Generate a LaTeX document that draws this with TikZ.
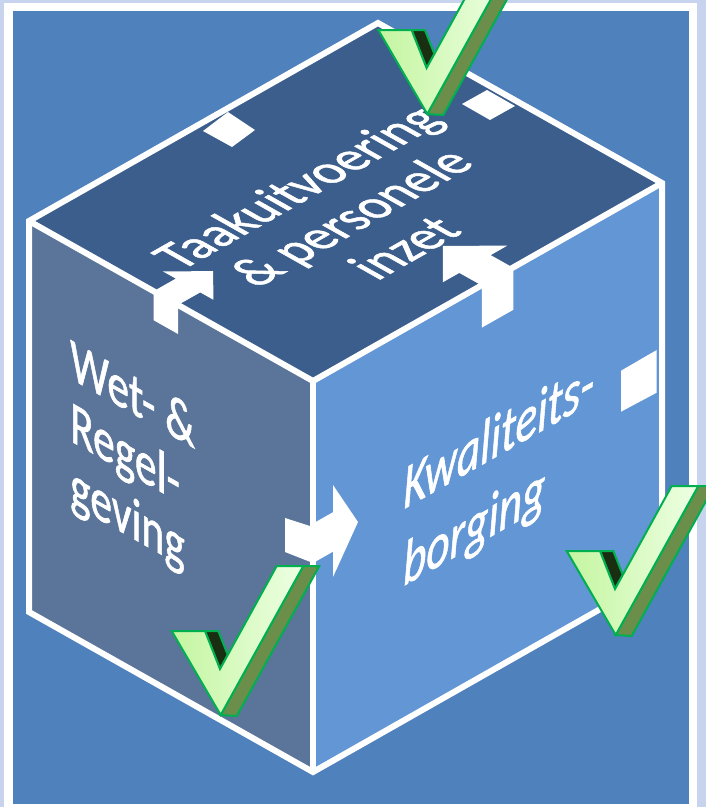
\documentclass[tikz,border=0pt]{standalone}
\usepackage{fontspec}
\setmainfont{Carlito}
\newfontfamily\vlakfont[FakeBold=1.2]{Carlito}
\usepackage{tikz}
\usetikzlibrary{positioning}

\definecolor{achtergrond}{HTML}{4F81BD}
\definecolor{lavendel}{HTML}{C8D4EE}
\definecolor{bovenvlak}{HTML}{3B5E8C}
\definecolor{linkervlak}{HTML}{5A7599}
\definecolor{rechtervlak}{HTML}{6296D4}
\definecolor{vinkrand}{HTML}{00B050}
\definecolor{vinklicht}{HTML}{C4F5A0}
\definecolor{vinkwit}{HTML}{EEFFE4}
\definecolor{vinkzij}{HTML}{6B8F4A}
\definecolor{vinkdonker}{HTML}{1A2E12}

\tikzset{
	vink/.pic={
		\path[fill=vinkzij, draw=vinkrand, line width=2pt] (131.6,-65) -- (147.6,-65) -- (65,85) -- (49,84) -- cycle;
		\path[fill=vinkdonker, draw=vinkrand, line width=2pt] (33.3,0) -- (46.6,0) -- (56.1,23.9) -- (48.3,38) -- cycle;
		\path[left color=vinklicht, right color=vinkwit, draw=vinkrand, line width=2pt] (0,0) -- (33.3,0) -- (48.3,38) -- (105,-65) -- (131.6,-65) -- (49,84) -- cycle;
	}
}

\begin{document}
\begin{tikzpicture}[x=1pt, y=-1pt,
		rand/.style    = {draw=white, line width=6pt, line join=miter},
		lip/.style     = {fill=white},
		pijl/.style    = {fill=white},
		opschrift/.style = {text=white, inner sep=0pt, transform shape, font=\vlakfont\fontsize{50}{64}\selectfont},
		boven/.style   = {opschrift, align=center, font=\vlakfont\fontsize{51}{56}\selectfont, cm={0.870,0.4935,-0.958,0.540,(0,0)}},
		links/.style   = {opschrift, align=left, anchor=north west, font=\vlakfont\fontsize{50}{52}\selectfont, cm={0.871,-0.491,0,1.2,(0,0)}},
		rechts/.style  = {opschrift, align=left, anchor=north west, font=\vlakfont\itshape\fontsize{52}{64}\selectfont, cm={0.870,0.4935,0,1.2,(0,0)}}]
	
	% achtergrond met kader
	\useasboundingbox (0,0) rectangle (706,807);
	\clip (0,0) rectangle (706,807);
	\fill[lavendel] (0,0) rectangle (706,807);
	\fill[white] (4,3) rectangle (697,812);
	\fill[achtergrond] (12.5,11) rectangle (689,804);
	
	% hoekpunten van de kubus
	\coordinate (LT) at (29,221);
	\coordinate (BT) at (378,23);
	\coordinate (RT) at (662,183);
	\coordinate (FT) at (313,381);
	\coordinate (LB) at (29,612);
	\coordinate (FB) at (313,772);
	\coordinate (RB) at (662,574);
	
	% de drie vlakken
	\fill[bovenvlak] (LT) -- (BT) -- (RT) -- (FT) -- cycle;
	\fill[linkervlak] (LT) -- (FT) -- (FB) -- (LB) -- cycle;
	\fill[rechtervlak] (FT) -- (RT) -- (RB) -- (FB) -- cycle;
	
	% ribben
	\draw[rand] (LT) -- (BT) -- (RT) -- (RB) -- (FB) -- (LB) -- cycle;
	\foreach \hoek in {LT,RT,FB}
	\draw[rand] (FT) -- (\hoek);
	
	% lipjes op de ribben
	\fill[lip] (203,131) -- (228,112) -- (255,130) -- (232,147) -- cycle;
	\fill[lip] (462,104) -- (487,90) -- (515,106) -- (490,120) -- cycle;
	\fill[lip] (621,370.7) -- (656.7,350) -- (656.7,392.7) -- (621,411.7) -- cycle;
	
	% pijlen over de ribben
	\fill[pijl] (213.2,271.2) -- (213.3,299.7) -- (200.2,292.4) -- (178,305) -- (178,334)
		-- (153.6,320.2) -- (153.6,291.2) -- (175.8,278.6) -- (162.7,271.3) -- cycle;
	\fill[pijl] (442.8,245.8) -- (507.2,245.7) -- (490.7,255.1) -- (513.3,267.8) -- (513.3,309.8)
		-- (481.9,327.6) -- (481.9,285.6) -- (459.3,272.9) -- (442.8,282.3) -- cycle;
	\fill[pijl] (285,518) -- (313,527) -- (313,523.5) -- (333,512.2) -- (333,485) -- (358,522)
		-- (333,577) -- (333,551.7) -- (313,563) -- (285,552) -- cycle;
	
	% teksten op de vlakken
	\node[shift={(350,217)}, boven] (taak) {Taakuitvoering\\\& personele\\inzet};
	\node[shift={(70,337)}, links] (wet) {Wet- \&\\Regel-\\geving};
	\node[shift={(403,466)}, rechts] (kwal) {Kwaliteits-\\borging};
	
	% vinkjes
	\foreach \plek in {(378.3,30),(566.7,551),(171.7,631)}
	\pic at \plek {vink};
	
\end{tikzpicture}
\end{document}
